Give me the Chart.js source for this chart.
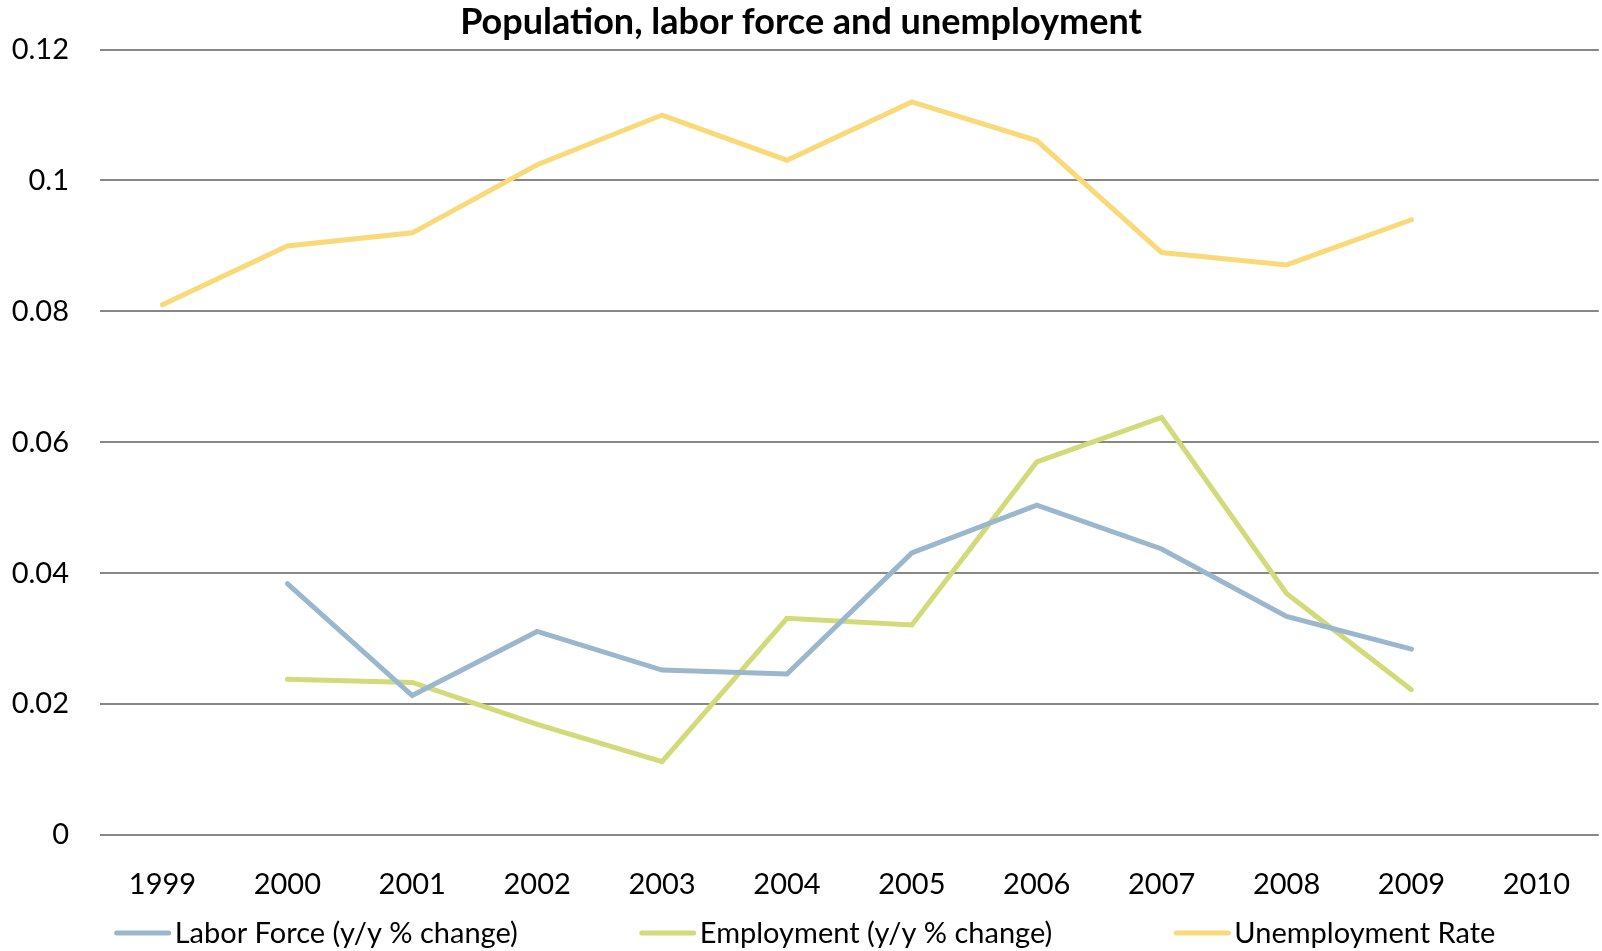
<!DOCTYPE html>
<html>
<head>
<meta charset="utf-8">
<script src="https://cdn.jsdelivr.net/npm/chart.js@4/dist/chart.umd.min.js"></script>
<style>
  html, body { margin: 0; padding: 0; background: #ffffff; }
  #wrap { width: 1602px; height: 951px; position: relative; }
</style>
</head>
<body>
<div id="wrap"><canvas id="c"></canvas></div>
<script>
const years = ['1999','2000','2001','2002','2003','2004','2005','2006','2007','2008','2009','2010'];
const laborForce = [null, 0.0384, 0.0213, 0.0311, 0.0252, 0.0246, 0.0431, 0.0504, 0.0437, 0.0334, 0.0284, null];
const employment = [null, 0.0238, 0.0233, 0.0169, 0.0112, 0.0331, 0.0321, 0.0570, 0.0638, 0.0369, 0.0222, null];
const unemploymentRate = [0.081, 0.090, 0.092, 0.1024, 0.110, 0.1031, 0.112, 0.1061, 0.089, 0.0871, 0.094, null];
const yTicks = [0, 0.02, 0.04, 0.06, 0.08, 0.1, 0.12];
const seriesNames = ['Labor Force (y/y % change)', 'Employment (y/y % change)', 'Unemployment Rate'];
const titleText = 'Population, labor force and unemployment';

const FONT = 'Lato, "Open Sans", "DejaVu Sans", sans-serif';
const colors = ['#9bb7cd', '#d2da7a', '#f9d978'];

function ds(label, data, color) {
  return {
    label, data,
    borderColor: color, backgroundColor: color,
    borderWidth: 5, pointRadius: 0, pointHoverRadius: 0,
    tension: 0, spanGaps: false, borderCapStyle: 'round', fill: false
  };
}

const customLegend = {
  id: 'customLegend',
  afterDraw(chart) {
    const ctx = chart.ctx;
    ctx.save();
    ctx.font = '29px ' + FONT;
    ctx.textBaseline = 'middle';
    ctx.textAlign = 'left';
    const lineW = 56, textGap = 4, itemGap = 122;
    const items = chart.data.datasets.map(d => ({ text: d.label, color: d.borderColor, w: ctx.measureText(d.label).width }));
    let total = 0;
    items.forEach((it, i) => { total += lineW + textGap + it.w + (i ? itemGap : 0); });
    let x = chart.width / 2 - total / 2 + 4;
    const y = 933;
    items.forEach(it => {
      ctx.strokeStyle = it.color;
      ctx.lineWidth = 5;
      ctx.lineCap = 'round';
      ctx.beginPath();
      ctx.moveTo(x + 2, y);
      ctx.lineTo(x + lineW - 2, y);
      ctx.stroke();
      ctx.fillStyle = '#000000';
      ctx.fillText(it.text, x + lineW + textGap, y + 1);
      x += lineW + textGap + it.w + itemGap;
    });
    ctx.restore();
  }
};

new Chart(document.getElementById('c'), {
  type: 'line',
  data: {
    labels: years,
    datasets: [
      ds(seriesNames[0], laborForce, colors[0]),
      ds(seriesNames[1], employment, colors[1]),
      ds(seriesNames[2], unemploymentRate, colors[2])
    ]
  },
  options: {
    responsive: true,
    maintainAspectRatio: false,
    animation: false,
    layout: { padding: { left: 0, right: 0, top: 0, bottom: 50 } },
    plugins: {
      legend: { display: false },
      tooltip: { enabled: false },
      title: {
        display: true,
        text: titleText,
        color: '#000000',
        font: { family: FONT, size: 36, weight: 'bold', lineHeight: 1.1 },
        padding: { top: 3, bottom: 7 }
      }
    },
    scales: {
      x: {
        offset: true,
        grid: { display: false, drawTicks: false },
        border: { display: false },
        ticks: { color: '#000000', font: { family: FONT, size: 29 }, padding: 32, maxRotation: 0, autoSkip: false },
        afterFit(scale) { scale.height = 66; }
      },
      y: {
        min: 0, max: 0.12,
        afterBuildTicks(scale) { scale.ticks = yTicks.map(v => ({ value: v })); },
        grid: { color: '#878787', lineWidth: 2, drawTicks: false },
        border: { display: false },
        ticks: {
          color: '#000000', font: { family: FONT, size: 29 }, padding: 31,
          callback: v => String(Number(v.toFixed(4)))
        },
        afterFit(scale) { scale.width = 100; }
      }
    }
  },
  plugins: [customLegend]
});
</script>
</body>
</html>
